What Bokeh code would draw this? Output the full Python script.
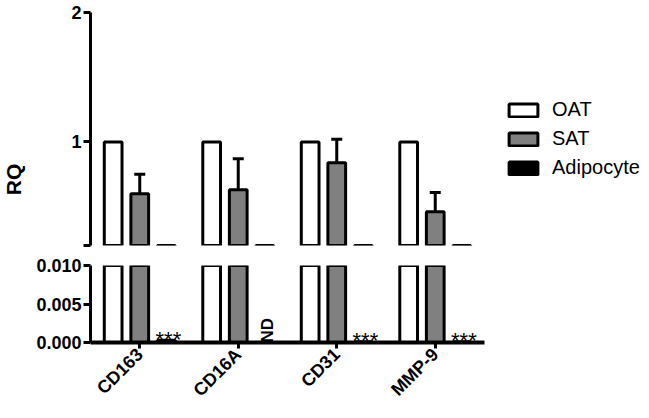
import math
from bokeh.plotting import figure
from bokeh.models import (ColumnDataSource, Range1d, FactorRange, FixedTicker,
                          Legend, LegendItem, Label, NumeralTickFormatter)
from bokeh.transform import dodge
from bokeh.layouts import column, row
from bokeh.embed import file_html
from bokeh.resources import INLINE

# ---- data ----
genes = ["CD163", "CD16A", "CD31", "MMP-9"]
series = ["OAT", "SAT", "Adipocyte"]
oat = [1.0, 1.0, 1.0, 1.0]
sat = [0.60, 0.63, 0.84, 0.46]
sat_err = [0.15, 0.24, 0.18, 0.15]
adipocyte = [0.0003, 0.0, 0.0001, 0.0001]
adip_marks = ["***", "ND", "***", "***"]
top_ticks = [0.2, 1, 2]
bottom_ticks = [0.0, 0.005, 0.010]
y_label = "RQ"

FONT = "Liberation Sans"
GRAY = "#808080"
OFF = 0.27
BW = 0.18
H = 410
RQ_W = 26
MAIN_W = 470
LEFT = 90 - RQ_W

src = ColumnDataSource(dict(gene=genes, oat=oat, sat=sat,
                            upper=[s + e for s, e in zip(sat, sat_err)],
                            adip=adipocyte))
star_idx = [i for i, m in enumerate(adip_marks) if m == "***"]
nd_idx = [i for i, m in enumerate(adip_marks) if m == "ND"]
star_src = ColumnDataSource(dict(gene=[genes[i] for i in star_idx],
                                 adip=[adipocyte[i] for i in star_idx],
                                 mark=[adip_marks[i] for i in star_idx]))
nd_src = ColumnDataSource(dict(gene=[genes[i] for i in nd_idx],
                               adip=[adipocyte[i] for i in nd_idx],
                               mark=[adip_marks[i] for i in nd_idx]))

xr = FactorRange(factors=genes)


def bare(p):
    p.outline_line_color = None
    p.grid.visible = False
    p.background_fill_color = "white"
    p.border_fill_color = "white"


def style_y(p):
    ax = p.yaxis[0]
    ax.axis_line_width = 3
    ax.axis_line_color = "black"
    ax.major_tick_line_width = 3
    ax.major_tick_out = 7
    ax.major_tick_in = 0
    ax.minor_tick_line_color = None
    ax.major_label_text_font = FONT
    ax.major_label_text_font_style = "bold"
    ax.major_label_text_font_size = "18px"
    ax.major_label_text_color = "black"
    ax.major_label_standoff = 2


def draw_bars(p):
    p.vbar(x=dodge("gene", -OFF, range=xr), top="oat", width=BW, source=src,
           fill_color="white", line_color="black", line_width=3)
    p.segment(x0=dodge("gene", 0, range=xr), y0="sat", x1=dodge("gene", 0, range=xr),
              y1="upper", source=src, line_color="black", line_width=3)
    p.scatter(x=dodge("gene", 0, range=xr), y="upper", source=src, marker="dash",
              size=11, line_color="black", line_width=3)
    p.vbar(x=dodge("gene", 0, range=xr), top="sat", width=BW, source=src,
           fill_color=GRAY, line_color="black", line_width=3)
    p.vbar(x=dodge("gene", OFF, range=xr), top="adip", width=BW, source=src,
           fill_color="black", line_color="black", line_width=3)


# ---- y-axis title strip ----
rqfig = figure(width=RQ_W, height=H, x_range=Range1d(0, 1), y_range=Range1d(0, 1),
               output_backend="svg", toolbar_location=None,
               x_axis_location=None, y_axis_location=None,
               min_border_left=0, min_border_right=0, min_border_top=0, min_border_bottom=0)
bare(rqfig)
rqfig.add_layout(Label(x=RQ_W / 2, y=H - 179, x_units="screen", y_units="screen", text=y_label,
                       angle=math.pi / 2, text_align="center", text_baseline="middle",
                       text_font=FONT, text_font_style="bold", text_font_size="21px",
                       text_color="black"))

# ---- top segment ----
top = figure(width=MAIN_W, height=255, x_range=xr, y_range=Range1d(0.2, 2),
             output_backend="svg", toolbar_location=None, x_axis_location=None,
             min_border_left=LEFT, min_border_right=MAIN_W - LEFT - 394,
             min_border_top=12, min_border_bottom=10)
bare(top)
style_y(top)
top.yaxis.ticker = FixedTicker(ticks=top_ticks)
top.yaxis.major_label_overrides = {0.2: ""}
draw_bars(top)

# ---- bottom segment ----
bot = figure(width=MAIN_W, height=H - 255, x_range=xr, y_range=Range1d(0, 0.010),
             output_backend="svg", toolbar_location=None,
             min_border_left=LEFT, min_border_right=MAIN_W - LEFT - 394,
             min_border_top=10, min_border_bottom=66)
bare(bot)
style_y(bot)
bot.yaxis.ticker = FixedTicker(ticks=bottom_ticks)
bot.yaxis.formatter = NumeralTickFormatter(format="0.000")
draw_bars(bot)

xa = bot.xaxis[0]
xa.axis_line_width = 4
xa.axis_line_color = "black"
xa.major_tick_line_width = 3
xa.major_tick_out = 6
xa.major_tick_in = 0
xa.minor_tick_line_color = None
xa.major_label_orientation = math.pi / 4
xa.major_label_text_font = FONT
xa.major_label_text_font_style = "bold"
xa.major_label_text_font_size = "18px"
xa.major_label_text_color = "black"
xa.major_label_standoff = 3

bot.text(x=dodge("gene", OFF, range=xr), y="adip", text="mark", source=star_src,
         text_align="center", text_baseline="middle", y_offset=-1, x_offset=2,
         text_font={"value": FONT}, text_font_size="22px", text_color="black")
bot.text(x=dodge("gene", OFF, range=xr), y="adip", text="mark", source=nd_src,
         angle=math.pi / 2, text_align="left", text_baseline="middle",
         x_offset=3, y_offset=0,
         text_font={"value": FONT}, text_font_style="bold", text_font_size="17px",
         text_color="black")

# ---- legend strip (proxy renderers hold no drawable values) ----
LEG_W = 641 - RQ_W - MAIN_W
legfig = figure(width=LEG_W, height=H, x_range=Range1d(0, 1), y_range=Range1d(0, 1),
                output_backend="svg", toolbar_location=None,
                x_axis_location=None, y_axis_location=None,
                min_border_left=0, min_border_right=0, min_border_top=0, min_border_bottom=0)
bare(legfig)
proxy = ColumnDataSource(dict(x=[float("nan")], top=[float("nan")]))
fills = ["white", GRAY, "black"]
items = []
for name, fc in zip(series, fills):
    r = legfig.vbar(x="x", top="top", width=0.1, source=proxy,
                    fill_color=fc, line_color="black", line_width=3)
    items.append(LegendItem(label=name, renderers=[r]))
legend = Legend(items=items, location=(9, H - 179),
                glyph_width=36, glyph_height=16,
                label_text_font=FONT, label_text_font_size="20px", label_text_color="black",
                label_standoff=11, spacing=6, padding=0, margin=0,
                border_line_color=None, background_fill_alpha=0)
legfig.add_layout(legend)

layout = row(rqfig, column(top, bot, spacing=0), legfig, spacing=0)
open("out.html", "w").write(file_html(layout, INLINE))
